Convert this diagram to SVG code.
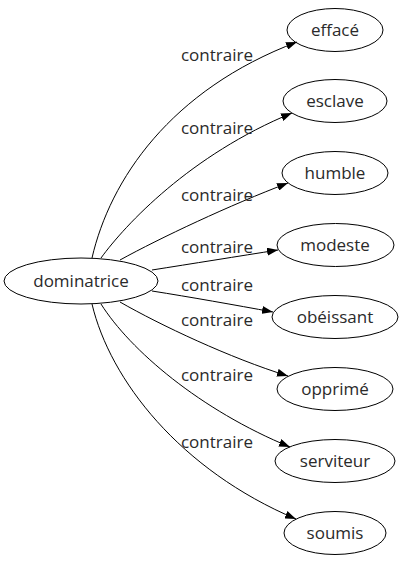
<svg xmlns="http://www.w3.org/2000/svg" width="404" height="563" viewBox="0 0 404 563">
<style>
.n ellipse{fill:none;stroke:#000;stroke-width:1}
text{font-family:"Open Sans","DejaVu Sans",sans-serif;font-size:17px;fill:#2a2a2a;text-anchor:middle}
.e path{fill:none;stroke:#000;stroke-width:1}
</style>
<defs>
<marker id="ah" markerWidth="11" markerHeight="8" refX="11" refY="4" orient="auto" markerUnits="userSpaceOnUse">
<path d="M0,0 L11,4 L0,8 z" fill="#000"/>
</marker>
</defs>
<rect width="404" height="563" fill="#fff"/>
<g id="edges" class="e">
<path d="M92,258 C110,180 170,90 297,42" marker-end="url(#ah)"/>
<path d="M101,258 C125,225 190,155 292,113" marker-end="url(#ah)"/>
<path d="M120,260 C160,238 230,205 288,183" marker-end="url(#ah)"/>
<path d="M152,270 C190,264 240,256 278,250" marker-end="url(#ah)"/>
<path d="M152,291 C190,297 235,305 273,312" marker-end="url(#ah)"/>
<path d="M120,302 C160,325 230,358 288,376" marker-end="url(#ah)"/>
<path d="M101,304 C130,350 200,410 290,447" marker-end="url(#ah)"/>
<path d="M92,304 C110,380 180,470 296,519" marker-end="url(#ah)"/>
<text x="217" y="61">contraire</text>
<text x="217" y="134">contraire</text>
<text x="217" y="201">contraire</text>
<text x="217" y="253">contraire</text>
<text x="217" y="291">contraire</text>
<text x="217" y="326">contraire</text>
<text x="217" y="381">contraire</text>
<text x="217" y="448">contraire</text>
</g>
<g id="dominatrice" class="n"><ellipse cx="81" cy="281" rx="77" ry="23"/><text x="81" y="287">dominatrice</text></g>
<g id="efface" class="n"><ellipse cx="335" cy="30" rx="48" ry="21.5"/><text x="335" y="36">effacé</text></g>
<g id="esclave" class="n"><ellipse cx="335" cy="101" rx="52" ry="21.5"/><text x="335" y="107">esclave</text></g>
<g id="humble" class="n"><ellipse cx="335" cy="173" rx="53" ry="21.5"/><text x="335" y="179">humble</text></g>
<g id="modeste" class="n"><ellipse cx="335.5" cy="245" rx="58.5" ry="21.5"/><text x="335" y="251">modeste</text></g>
<g id="obeissant" class="n"><ellipse cx="335" cy="317" rx="63" ry="21.5"/><text x="335" y="323">obéissant</text></g>
<g id="opprime" class="n"><ellipse cx="335" cy="389" rx="58" ry="21.5"/><text x="335" y="395">opprimé</text></g>
<g id="serviteur" class="n"><ellipse cx="335" cy="461" rx="60" ry="21.5"/><text x="335" y="467">serviteur</text></g>
<g id="soumis" class="n"><ellipse cx="335" cy="533" rx="51" ry="21.5"/><text x="335" y="539">soumis</text></g>
</svg>
